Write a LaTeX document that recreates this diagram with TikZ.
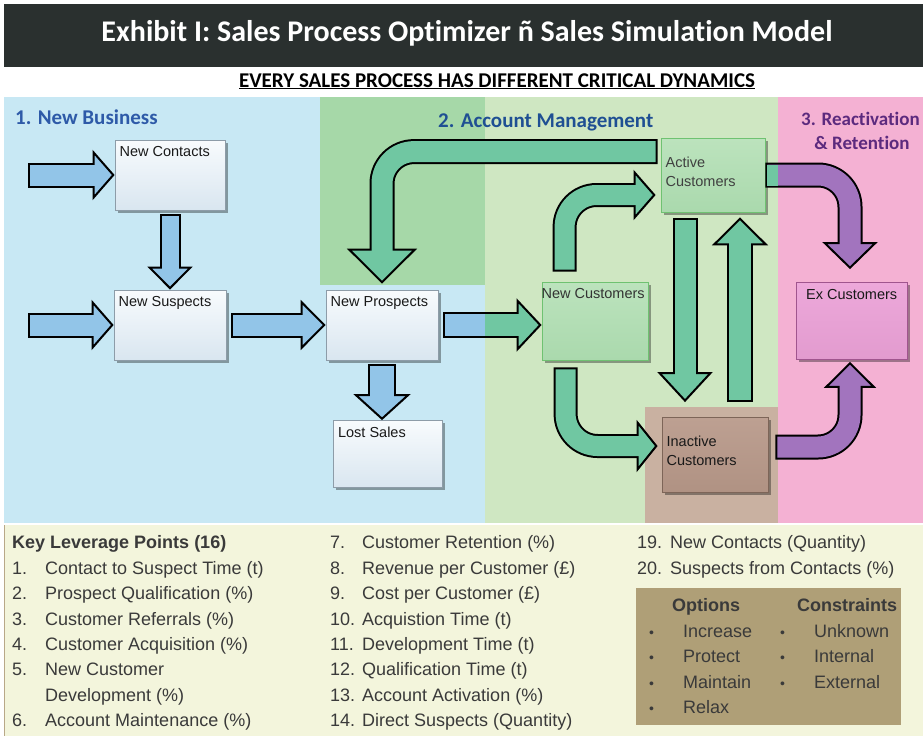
\documentclass[tikz,border=0pt]{standalone}
\usepackage{fontspec}
\setmainfont{Liberation Sans}
\newfontfamily\calfont[Ligatures=NoCommon]{Carlito}
\usetikzlibrary{arrows.meta,shadows,calc}

\definecolor{titlebg}{HTML}{2A302F}
\definecolor{newbiz}{HTML}{C8E8F4}
\definecolor{acctdark}{HTML}{A6D8A8}
\definecolor{acctlight}{HTML}{CFE7C2}
\definecolor{retain}{HTML}{F4B1D3}
\definecolor{inact}{HTML}{C9B1A1}
\definecolor{keybg}{HTML}{F3F5DC}
\definecolor{keyedge}{HTML}{B8A888}
\definecolor{optbg}{HTML}{AF9F77}
\definecolor{arrblue}{HTML}{92C5E8}
\definecolor{arrgreen}{HTML}{70C7A2}
\definecolor{arrpurple}{HTML}{A274BE}
\definecolor{boxtop}{HTML}{F8FBFD}
\definecolor{boxbot}{HTML}{D9E6F0}
\definecolor{boxline}{HTML}{8D9CA8}
\definecolor{custtop}{HTML}{BCE3BD}
\definecolor{custbot}{HTML}{AAD9AD}
\definecolor{custline}{HTML}{6FC271}
\definecolor{inacttop}{HTML}{BDA092}
\definecolor{inactbot}{HTML}{B09283}
\definecolor{inactline}{HTML}{7D6558}
\definecolor{extop}{HTML}{EDA8DA}
\definecolor{exbot}{HTML}{E29BCF}
\definecolor{exline}{HTML}{A0558E}
\definecolor{txtgray}{HTML}{3A3A3A}
\definecolor{secblue}{HTML}{2E5AA8}
\definecolor{secnavy}{HTML}{1F4F93}
\definecolor{secpurple}{HTML}{5C2A7E}

\newcommand\titletxt{\calfont\bfseries\fontsize{30}{34}\selectfont}
\newcommand\subtxt{\calfont\bfseries\fontsize{21}{24}\selectfont}
\newcommand\sectxt{\calfont\bfseries\fontsize{21}{24}\selectfont}
\newcommand\smallsectxt{\calfont\bfseries\fontsize{19}{24}\selectfont}
\newcommand\boxtxt{\fontsize{14.5}{19}\selectfont}
\newcommand\keytxt{\fontsize{18}{25.4}\selectfont}
\newcommand\smallbul{{\fontsize{14}{14}\selectfont\textbullet}}

\begin{document}
\begin{tikzpicture}
[x=1pt, y=-1pt,
 box/.style={shape=rectangle, draw=boxline, line width=.8pt, top color=boxtop, bottom color=boxbot,
   minimum width=110pt, minimum height=70pt,
   drop shadow={shadow xshift=2.5pt, shadow yshift=-2.5pt, opacity=.35, fill=black}},
 custbox/.style={box, draw=custline, top color=custtop, bottom color=custbot},
 inactbox/.style={box, draw=inactline, top color=inacttop, bottom color=inactbot},
 exbox/.style={box, draw=exline, top color=extop, bottom color=exbot},
 lbl/.style={anchor=north west, inner xsep=5pt, inner ysep=7pt, outer sep=0pt, align=left,
   font=\boxtxt, text=black!90},
 sec/.style={anchor=base west, inner sep=0pt, font=\sectxt},
 shaft/.style={draw=black, line width=#1, rounded corners=32pt},
 core/.style 2 args={draw=#1, line width=#2, rounded corners=32pt, shorten <=2pt},
 bhead/.style n args={3}{-{Triangle[length=#1, width=#2, line width=2pt, fill=#3]}},
 keytext/.style={anchor=north west, inner sep=0pt, font=\keytxt, text=txtgray}]

\fill[white] (0,0) rectangle (923,736);
\useasboundingbox (0,0) rectangle (923,736);

\fill[titlebg] (4,4) rectangle (923,67);
\node (title) at (467,41) [anchor=base, inner sep=0pt, text=white, font=\titletxt]
  {Exhibit I: Sales Process Optimizer ñ Sales Simulation Model};
\node (sub) at (497,87) [anchor=base, inner sep=0pt, font=\subtxt]
  {\underline{EVERY SALES PROCESS HAS DIFFERENT CRITICAL DYNAMICS}};

\fill[newbiz] (4,97) rectangle (485,523);
\fill[acctdark] (320,97) rectangle (485,285);
\fill[acctlight] (485,97) rectangle (778,523);
\fill[retain] (778,97) rectangle (923,523);
\fill[inact] (645,407) rectangle (778,523);
\fill[keybg] (4,525) rectangle (923,736);
\draw[keyedge, line width=1pt] (4.5,525) -- (4.5,736);

\node (sec1) at (15,124) [sec, text=secblue] {1. New Business};
\node (sec2) at (438,127) [sec, text=secnavy] {2. Account Management};
\node (sec3) at (801,125) [sec, text=secpurple, font=\smallsectxt] {3. Reactivation};
\node (sec3b) at (862,149) [anchor=base, inner sep=0pt, font=\smallsectxt, text=secpurple] {\& Retention};

\node (nc) at (170,175) [box, label={[lbl]north west:New Contacts}] {};
\node (ns) at (170,325) [box, minimum width=112pt, label={[lbl]north west:New Suspects}] {};
\node (np) at (382,325) [box, minimum width=112pt, label={[lbl]north west:New Prospects}] {};
\node (ls) at (388,454) [box, minimum width=109pt, minimum height=67pt, label={[lbl]north west:Lost Sales}] {};
\node (ncu) at (595,321) [custbox, minimum width=106pt, minimum height=78pt,
  label={[lbl, xshift=-5pt, text=black!80]north west:New Customers}] {};
\node (ac) at (713,175) [custbox, minimum width=104pt, minimum height=74pt,
  label={[lbl, yshift=-12pt, text=black!75]north west:{Active\\Customers}}] {};
\node (ic) at (715,455) [inactbox, minimum width=106pt, minimum height=75pt,
  label={[lbl, yshift=-12pt]north west:{Inactive\\Customers}}] {};
\node (ex) at (852,321) [exbox, minimum width=111pt, minimum height=77pt,
  label={[lbl, xshift=5pt]north west:Ex Customers}] {};

\coordinate (a1) at (28,175);
\coordinate (a3) at (28,325);
\coordinate (split) at (485,0);
\coordinate (pinkedge) at (778,0);
\coordinate (g1a) at ($(ac.north west)+(-3,14)$);
\coordinate (g2a) at ($(ncu.north west)+(23,-10)$);
\coordinate (g2b) at ($(ac.west)+(-5,20)$);
\coordinate (g3a) at ($(ncu.south west)+(24,7)$);
\coordinate (g3b) at ($(ic.west)+(-4,-9)$);
\coordinate (p1b) at ($(ex.north)+(-2,-13)$);
\coordinate (p2a) at ($(ic.east)+(7,-8)$);
\coordinate (p2b) at ($(ex.south)+(-2,2)$);

% new business
\draw[shaft=25pt, bhead={22pt}{50pt}{arrblue}] (a1) -- (nc.west);
\draw[core={arrblue}{21pt}, shorten >=18pt] (a1) -- (nc.west);
\draw[shaft=21pt, bhead={23pt}{45pt}{arrblue}] ($(nc.south)+(0,4)$) -- (ns.north);
\draw[core={arrblue}{17pt}, shorten >=19pt] ($(nc.south)+(0,4)$) -- (ns.north);
\draw[shaft=25pt, bhead={22pt}{50pt}{arrblue}] (a3) -- (ns.west);
\draw[core={arrblue}{21pt}, shorten >=18pt] (a3) -- (ns.west);
\draw[shaft=25pt, bhead={25pt}{50pt}{arrblue}] ($(ns.east)+(5,0)$) -- (np.west);
\draw[core={arrblue}{21pt}, shorten >=21pt] ($(ns.east)+(5,0)$) -- (np.west);
\draw[shaft=28pt, bhead={26pt}{57pt}{arrblue}] ($(np.south)+(0,4)$) -- (np.south |- ls.north);
\draw[core={arrblue}{24pt}, shorten >=22pt] ($(np.south)+(0,4)$) -- (np.south |- ls.north);
\draw[shaft=26pt, bhead={25pt}{53pt}{arrgreen}] ($(np.east)+(5,0)$) -- (np.east -| ncu.west);
\draw[core={arrgreen}{22pt}, shorten >=21pt] ($(np.east)+(5,0)$) -- (np.east -| ncu.west);
\draw[core={arrblue}{22pt}] ($(np.east)+(5,0)$) -- (np.east -| split);

% account management
\draw[shaft=25pt, bhead={35pt}{70pt}{arrgreen}] (g1a) -- (g1a -| np.north) -- ($(np.north)+(0,-6)$);
\draw[core={arrgreen}{21pt}, shorten >=31pt] (g1a) -- (g1a -| np.north) -- ($(np.north)+(0,-6)$);
\draw[shaft=24pt, bhead={22pt}{50pt}{arrgreen}] (g2a) -- (g2a |- g2b) -- (g2b);
\draw[core={arrgreen}{20pt}, shorten >=18pt] (g2a) -- (g2a |- g2b) -- (g2b);
\draw[shaft=24pt, bhead={21pt}{52pt}{arrgreen}] (g3a) -- (g3a |- g3b) -- (g3b);
\draw[core={arrgreen}{20pt}, shorten >=17pt] (g3a) -- (g3a |- g3b) -- (g3b);
\draw[shaft=25pt, bhead={30pt}{55pt}{arrgreen}] ($(ac.south)+(-28,6)$) -- ($(ic.north)+(-30,-15)$);
\draw[core={arrgreen}{21pt}, shorten >=26pt] ($(ac.south)+(-28,6)$) -- ($(ic.north)+(-30,-15)$);
\draw[shaft=26pt, bhead={28pt}{56pt}{arrgreen}] ($(ic.north)+(25,-15)$) -- ($(ac.south)+(27,5)$);
\draw[core={arrgreen}{22pt}, shorten >=24pt] ($(ic.north)+(25,-15)$) -- ($(ac.south)+(27,5)$);

% reactivation
\draw[shaft=25pt, bhead={27pt}{55pt}{arrpurple}] (ac.east) -- (ac.east -| p1b) -- (p1b);
\draw[core={arrpurple}{21pt}, shorten >=23pt] (ac.east) -- (ac.east -| p1b) -- (p1b);
\draw[core={arrgreen}{21pt}] (ac.east) -- (ac.east -| pinkedge);
\draw[shaft=25pt, bhead={26pt}{52pt}{arrpurple}] (p2a) -- (p2a -| p2b) -- (p2b);
\draw[core={arrpurple}{21pt}, shorten >=22pt] (p2a) -- (p2a -| p2b) -- (p2b);

% leverage points
\node (lev1) at (12,531) [keytext] {\begin{tabular}{@{}p{33pt}@{}l@{}}
  \multicolumn{2}{@{}l@{}}{\bfseries Key Leverage Points (16)}\\
  1. & Contact to Suspect Time (t)\\
  2. & Prospect Qualification (\%)\\
  3. & Customer Referrals (\%)\\
  4. & Customer Acquisition (\%)\\
  5. & New Customer\\
     & Development (\%)\\
  6. & Account Maintenance (\%)
\end{tabular}};
\node (lev2) at (330,531) [keytext] {\begin{tabular}{@{}p{32pt}@{}l@{}}
  7. & Customer Retention (\%)\\
  8. & Revenue per Customer (£)\\
  9. & Cost per Customer (£)\\
  10. & Acquistion Time (t)\\
  11. & Development Time (t)\\
  12. & Qualification Time (t)\\
  13. & Account Activation (\%)\\
  14. & Direct Suspects (Quantity)
\end{tabular}};
\node (lev3) at (637,531) [keytext] {\begin{tabular}{@{}p{33pt}@{}l@{}}
  19. & New Contacts (Quantity)\\
  20. & Suspects from Contacts (\%)
\end{tabular}};

\fill[optbg] (636,588) rectangle (901,725);
\node (opts) at (649,594) [keytext] {\begin{tabular}{@{}p{34pt}@{}l@{}}
  \multicolumn{2}{@{\hspace{23pt}}l@{}}{\bfseries Options}\\
  \smallbul & Increase\\
  \smallbul & Protect\\
  \smallbul & Maintain\\
  \smallbul & Relax
\end{tabular}};
\node (cons) at (780,594) [keytext] {\begin{tabular}{@{}p{34pt}@{}l@{}}
  \multicolumn{2}{@{\hspace{17pt}}l@{}}{\bfseries Constraints}\\
  \smallbul & Unknown\\
  \smallbul & Internal\\
  \smallbul & External
\end{tabular}};
\end{tikzpicture}
\end{document}
